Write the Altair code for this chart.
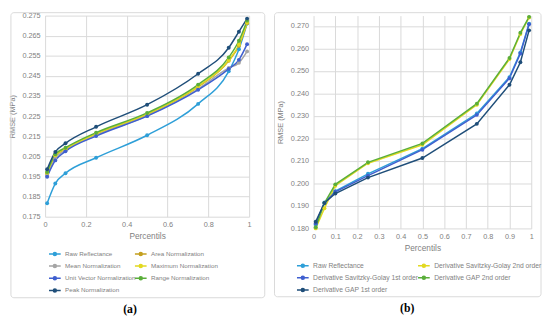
import altair as alt
import pandas as pd

pct = [0.01, 0.05, 0.1, 0.25, 0.5, 0.75, 0.9, 0.95, 0.99]

# Panel (a)
raw = [0.1817, 0.1915, 0.1966, 0.2043, 0.2155, 0.2311, 0.2473, 0.2583, 0.2711]
area_n = [0.1965, 0.2052, 0.2085, 0.2160, 0.2257, 0.2395, 0.2525, 0.2600, 0.2712]
mean_n = [0.1955, 0.2040, 0.2080, 0.2155, 0.2252, 0.2385, 0.2490, 0.2515, 0.2572]
max_n = [0.1968, 0.2055, 0.2088, 0.2163, 0.2260, 0.2398, 0.2528, 0.2605, 0.2715]
unit_n = [0.1949, 0.2030, 0.2075, 0.2151, 0.2250, 0.2381, 0.2485, 0.2530, 0.2608]
range_n = [0.1972, 0.2060, 0.2093, 0.2168, 0.2266, 0.2407, 0.2542, 0.2625, 0.2725]
peak_n = [0.1986, 0.2072, 0.2115, 0.2197, 0.2307, 0.2461, 0.2590, 0.2670, 0.2735]

series_a = ["Raw Reflectance", "Area Normalization", "Mean Normalization",
            "Maximum Normalization", "Unit Vector Normalization",
            "Range Normalization", "Peak Normalization"]
values_a = [raw, area_n, mean_n, max_n, unit_n, range_n, peak_n]
colors_a = ["#2E9FD8", "#C4A020", "#A5A5A5", "#E2D920", "#3F5FCF", "#5AAE3A", "#1F4E79"]

# Panel (b)
sg2 = [0.1800, 0.1890, 0.1990, 0.2090, 0.2172, 0.2350, 0.2553, 0.2665, 0.2738]
sg1 = [0.1822, 0.1913, 0.1963, 0.2035, 0.2150, 0.2305, 0.2468, 0.2578, 0.2708]
gap2 = [0.1805, 0.1913, 0.1996, 0.2094, 0.2178, 0.2355, 0.2558, 0.2670, 0.2741]
gap1 = [0.1830, 0.1913, 0.1955, 0.2026, 0.2113, 0.2265, 0.2439, 0.2539, 0.2681]

series_b = ["Raw Reflectance", "Derivative Savitzky-Golay 2nd order",
            "Derivative Savitzky-Golay 1st order", "Derivative GAP 2nd order",
            "Derivative GAP 1st order"]
values_b = [raw, sg2, sg1, gap2, gap1]
colors_b = ["#2E9FD8", "#E2D920", "#3F5FCF", "#5AAE3A", "#1F4E79"]

ticks_a_x = [0, 0.2, 0.4, 0.6, 0.8, 1]
ticks_a_y = [0.175, 0.185, 0.195, 0.205, 0.215, 0.225, 0.235, 0.245, 0.255, 0.265, 0.275]
ticks_b_x = [0, 0.1, 0.2, 0.3, 0.4, 0.5, 0.6, 0.7, 0.8, 0.9, 1]
ticks_b_y = [0.18, 0.19, 0.20, 0.21, 0.22, 0.23, 0.24, 0.25, 0.26, 0.27]


def long_df(names, vals):
    rows = []
    for n, v in zip(names, vals):
        for p, y in zip(pct, v):
            rows.append({"series": n, "p": p, "rmse": y})
    return pd.DataFrame(rows)


df_a = long_df(series_a, values_a)
df_b = long_df(series_b, values_b)

FONT = "Liberation Sans"
GREY = "#7f7f7f"
SYM = "M-1.6,0H1.6M-0.4,0a0.4,0.4 0 1,0 0.8,0a0.4,0.4 0 1,0 -0.8,0"


def panel(df, names, colors, xticks, yticks, ydom, w, h, leg_x, leg_y, col_pad,
          leg_font, box, label, label_xy, interp):
    legend = alt.Legend(orient="none", legendX=leg_x, legendY=leg_y, columns=2,
                        direction="horizontal",
                        title=None, symbolType=SYM, symbolSize=56,
                        symbolStrokeWidth=1.6, labelFontSize=leg_font, labelFont=FONT,
                        labelColor=GREY, rowPadding=2.5, columnPadding=col_pad,
                        labelOffset=5.5, labelLimit=200)
    base = alt.Chart(df).encode(
        x=alt.X("p:Q", scale=alt.Scale(domain=[0, 1], nice=False),
                axis=alt.Axis(values=xticks, format="~g", title="Percentils",
                              titleFontSize=8.5, titleFontWeight="normal",
                              titleColor=GREY, titleFont=FONT, labelFont=FONT,
                              labelFontSize=7.5, labelColor=GREY, ticks=False,
                              domain=False, gridColor="#d9d9d9", labelPadding=4,
                              titlePadding=4, labelFlush=False)),
        y=alt.Y("rmse:Q", scale=alt.Scale(domain=ydom, nice=False, zero=False),
                axis=alt.Axis(values=yticks, format=".3f", title="RMSE (MPa)",
                              titleFontSize=7.5, titleFontWeight="normal",
                              titleColor=GREY, titleFont=FONT, labelFont=FONT,
                              labelFontSize=7.5, labelColor=GREY, ticks=False,
                              domain=False, gridColor="#d9d9d9", labelPadding=5,
                              titlePadding=6)),
        color=alt.Color("series:N", scale=alt.Scale(domain=names, range=colors),
                        legend=legend),
        order=alt.Order("p:Q"),
    )
    lines = base.mark_line(strokeWidth=1.5, clip=False, interpolate=interp)
    pts = base.mark_point(filled=True, size=16, opacity=1, clip=False)
    one = pd.DataFrame({"k": [0]})
    rect = alt.Chart(one).mark_rect(fill="white", fillOpacity=0, stroke="#d9d9d9",
                                    strokeWidth=1, cornerRadius=3).encode(
        x=alt.value(box[0]), x2=alt.value(box[1]),
        y=alt.value(box[2]), y2=alt.value(box[3]))
    txt = alt.Chart(one).mark_text(text=label, font="Liberation Serif",
                                   fontSize=12, fontWeight="bold",
                                   color="#000000").encode(
        x=alt.value(label_xy[0]), y=alt.value(label_xy[1]))
    return alt.layer(rect, lines, pts, txt).properties(width=w, height=h)


pa = panel(df_a, series_a, colors_a, ticks_a_x, ticks_a_y, [0.175, 0.275],
           209, 206, 5, 239, -9, 6.4, (-35, 225, -3, 289), "(a)", (87, 301),
           "monotone")
pb = panel(df_b, series_b, colors_b, ticks_b_x, ticks_b_y, [0.18, 0.27465],
           223, 218, -16, 251, -9, 6.9, (-40, 233, -3, 288), "(b)", (96, 300),
           "linear")

chart = alt.hconcat(pa, pb, spacing=8).resolve_scale(color="independent").properties(
    padding=0).configure_view(stroke=None)

chart.save("out.html", embed_options={"renderer": "svg", "actions": False})
